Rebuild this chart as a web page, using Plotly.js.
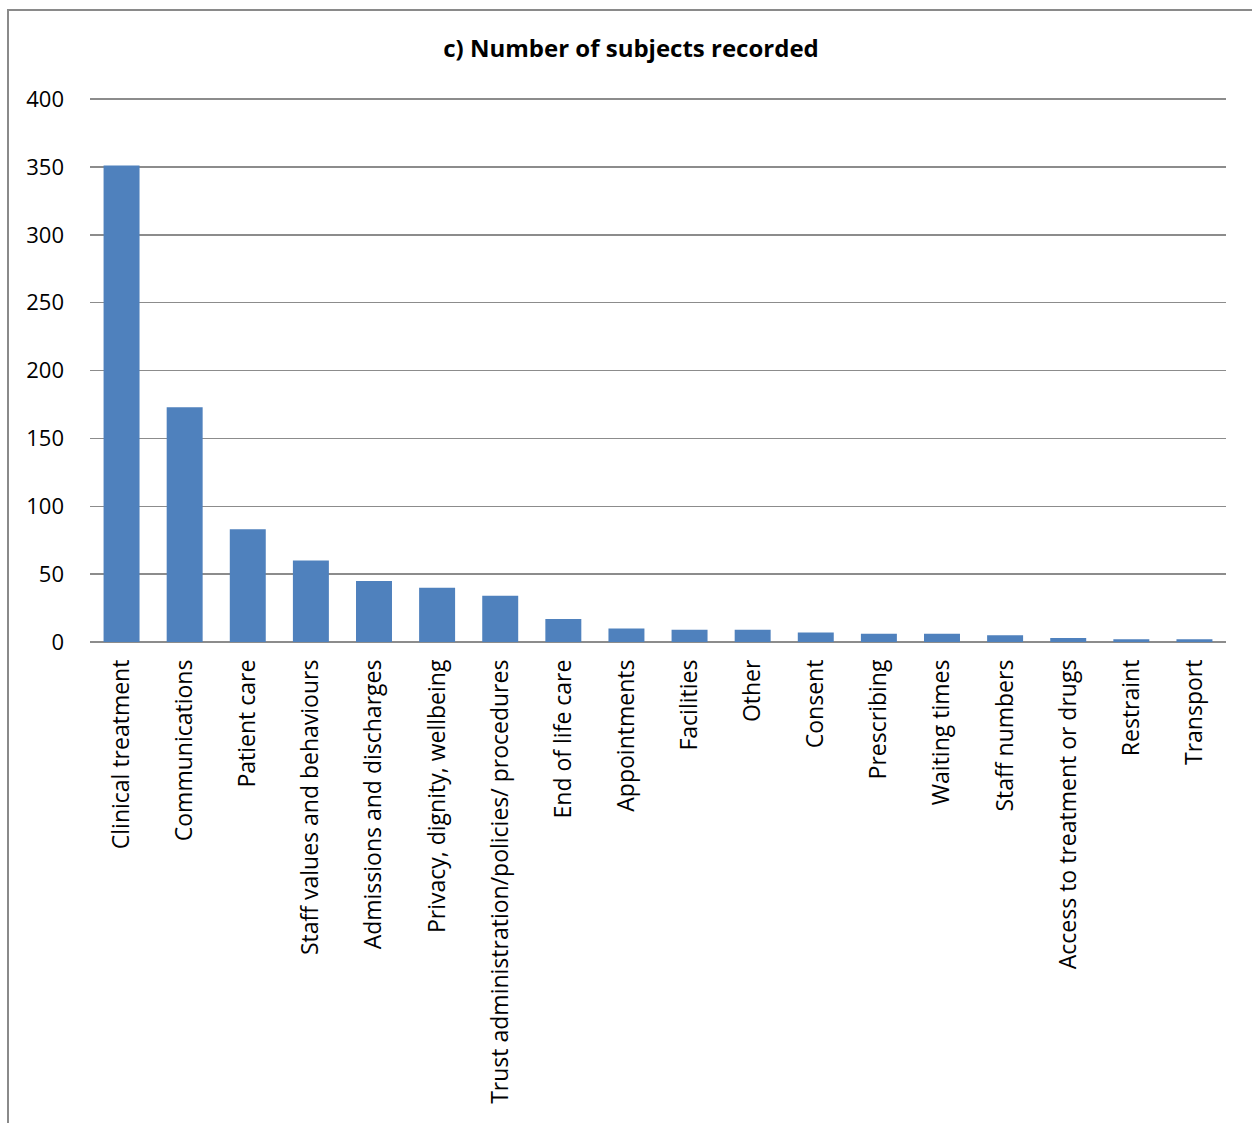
<!DOCTYPE html>
<html>
<head>
<meta charset="utf-8">
<script src="https://cdn.plot.ly/plotly-3.0.1.min.js"></script>
<style>
  html, body { margin: 0; padding: 0; background: #ffffff; }
  #chart { position: absolute; left: 0; top: 0; width: 1252px; height: 1123px; }
  #frame {
    position: absolute; left: 7px; top: 9px; width: 1245px; height: 1114px;
    border-left: 2px solid #8a8a8a; border-top: 2px solid #8a8a8a;
    box-sizing: border-box; pointer-events: none;
  }
</style>
</head>
<body>
<div id="chart"></div>
<div id="frame"></div>
<script>
// Subjects recorded, in descending order of count
const subjects = [
  "Clinical treatment",
  "Communications",
  "Patient care",
  "Staff values and behaviours",
  "Admissions and discharges",
  "Privacy, dignity, wellbeing",
  "Trust administration/policies/ procedures",
  "End of life care",
  "Appointments",
  "Facilities",
  "Other",
  "Consent",
  "Prescribing",
  "Waiting times",
  "Staff numbers",
  "Access to treatment or drugs",
  "Restraint",
  "Transport"
];
const counts = [351, 173, 83, 60, 45, 40, 34, 17, 10, 9, 9, 7, 6, 6, 5, 3, 2, 2];
const yTicks = [0, 50, 100, 150, 200, 250, 300, 350, 400];

const FONT = "'Open Sans', Lato, 'DejaVu Sans', sans-serif";

const trace = {
  type: "bar",
  x: subjects,
  y: counts,
  marker: { color: "#4f81bd", line: { width: 0 } },
  hoverinfo: "x+y"
};

const layout = {
  width: 1252,
  height: 1123,
  // top of the range is nudged past 400 so the top gridline is drawn
  margin: { l: 90, r: 26, t: 98, b: 481, pad: 0 },
  paper_bgcolor: "#ffffff",
  plot_bgcolor: "#ffffff",
  bargap: 0.43,
  showlegend: false,
  title: {
    text: "<b>c) Number of subjects recorded</b>",
    font: { family: FONT, size: 24, color: "#000000" },
    x: 0.504, xref: "container", xanchor: "center",
    y: 49, yref: "container", yanchor: "middle"
  },
  xaxis: {
    type: "category",
    tickangle: -90,
    tickfont: { family: FONT, size: 23, color: "#000000" },
    showgrid: false,
    showline: false,
    ticks: "",
    ticklabelstandoff: 12,
    zeroline: false
  },
  yaxis: {
    range: [0, 400.8],
    tickvals: yTicks,
    ticktext: yTicks.map(String),
    tickfont: { family: FONT, size: 22, color: "#000000" },
    showgrid: true,
    gridcolor: "#8c8c8c",
    gridwidth: 1.5,
    zeroline: true,
    zerolinecolor: "#8c8c8c",
    zerolinewidth: 1.5,
    showline: false,
    ticks: "",
    ticklabelstandoff: 25
  }
};

Plotly.newPlot("chart", [trace], layout, { displayModeBar: false, staticPlot: true });
</script>
</body>
</html>
